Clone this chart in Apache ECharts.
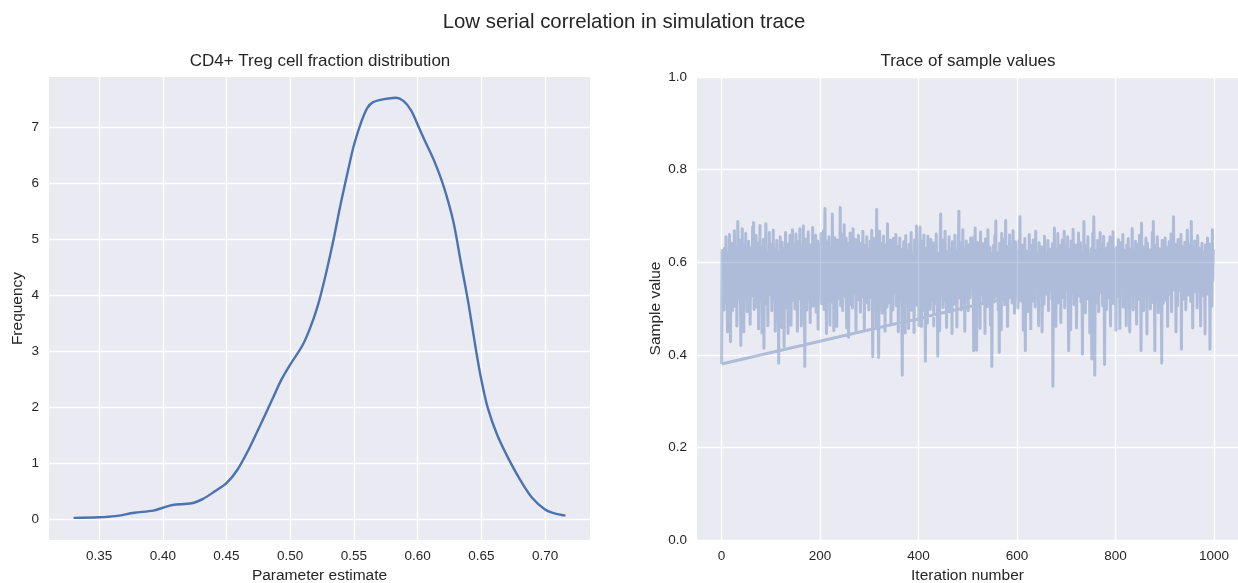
<!DOCTYPE html>
<html><head><meta charset="utf-8">
<script src="https://cdn.jsdelivr.net/npm/echarts@6/dist/echarts.min.js"></script>
<style>html,body{margin:0;padding:0;background:#fff}#c{width:1238px;height:583px}</style>
</head><body><div id="c"></div>
<script>
// ---- KDE curve (left panel) ----
const kdeX = [0.330,0.350,0.3626,0.3776,0.3926,0.400,0.4076,0.4226,0.4316,0.4406,0.450,0.4586,0.4676,0.4766,0.4856,0.4931,0.500,0.5096,0.5156,0.5216,0.5276,0.5336,0.5396,0.5456,0.550,0.556,0.5606,0.5651,0.5726,0.5831,0.5891,0.595,0.600,0.6055,0.613,0.6205,0.628,0.634,0.640,0.6461,0.650,0.655,0.6625,0.6715,0.6805,0.6895,0.700,0.7075,0.716];
const kdeY = [0.02,0.03,0.05,0.11,0.15,0.20,0.25,0.28,0.36,0.49,0.64,0.88,1.25,1.68,2.12,2.49,2.76,3.10,3.41,3.81,4.34,4.95,5.63,6.25,6.68,7.11,7.35,7.45,7.50,7.53,7.47,7.30,7.05,6.77,6.40,5.94,5.32,4.58,3.84,2.98,2.49,1.99,1.50,1.07,0.70,0.39,0.17,0.10,0.06];

// ---- tick labels ----
const leftXTicks = [0.35,0.40,0.45,0.50,0.55,0.60,0.65,0.70];
const leftYTicks = [0,1,2,3,4,5,6,7];
const rightXTicks = [0,200,400,600,800,1000];
const rightYTicks = [0,0.2,0.4,0.6,0.8,1.0];

// ---- trace of sample values (thousandths), iterations 0..999 ----
const traceA = [
380,625,548,612,571,497,630,589,542,655, 512,598,449,621,566,533,660,585,428,603,
552,641,495,578,617,539,668,505,590,560, 634,462,571,688,543,602,520,648,581,420,
596,557,672,509,615,449,583,639,526,662, 548,601,493,627,570,645,512,589,466,631,
557,604,528,676,541,686,498,582,619,537, 658,503,594,566,640,456,612,553,679,520,
587,633,447,605,561,649,414,598,574,627, 683,509,566,621,463,602,547,664,531,590,
573,638,495,611,554,669,519,583,627,451, 600,562,647,508,591,536,382,622,579,655,
527,606,459,643,568,599,515,418,630,561, 664,502,588,549,617,446,640,575,533,658,
596,464,625,552,670,518,603,569,637,499, 585,661,530,608,451,644,563,597,521,672,
545,619,462,634,578,512,678,556,601,375, 628,565,650,497,589,541,666,523,612,580,
469,637,559,601,534,675,505,591,548,626, 574,658,492,617,551,646,455,603,565,639,
527,595,662,510,581,629,544,668,498,606, 716,538,588,446,643,567,609,523,655,580,
464,631,556,600,514,704,546,622,452,593, 653,532,611,567,461,648,574,521,637,590,
543,718,506,598,572,660,495,615,549,681];
const traceB = [
527,604,575,652,458,619,561,596,438,641, 570,663,509,587,543,626,501,672,556,612,
585,534,649,453,603,567,632,519,658,590, 545,617,492,641,572,604,526,667,553,598,
456,636,564,609,540,655,512,584,627,497, 612,558,645,524,593,669,541,396,603,577,
651,509,588,632,460,714,552,620,536,394, 598,667,517,584,641,563,490,609,575,656,
528,600,451,637,566,617,503,683,548,592, 629,512,579,648,469,605,560,622,497,651,
571,534,611,582,660,506,595,548,634,450, 603,567,652,521,588,628,493,356,615,579,
644,538,601,447,657,562,593,515,626,585, 457,639,551,607,529,664,496,578,620,545,
599,448,648,563,612,524,678,507,586,633, 557,463,615,676,538,597,461,645,572,526,
608,659,495,583,386,630,547,601,468,656, 575,533,621,580,498,649,562,612,519,590,
642,462,604,568,627,510,661,545,584,397, 618,553,597,452,635,704,529,606,571,648,
502,589,633,541,667,518,596,459,622,574, 611,536,655,493,587,629,548,602,446,644,
566,617,509,593,658,531,580,624,460,607, 552,639,710,523,598,568,641,497,613,556,
670,514,591,627,451,603,559,646,532,618];
const traceC = [
581,495,637,566,608,523,652,574,544,629, 589,653,409,600,562,674,536,611,410,586,
643,507,595,558,621,457,665,569,603,531, 588,640,515,579,612,446,650,547,596,625,
504,670,561,603,538,632,464,589,618,375, 601,548,636,572,514,657,583,689,526,609,
565,620,497,594,405,641,553,606,454,662, 587,532,618,561,649,508,598,690,543,612,
571,461,634,589,523,659,547,603,575,637, 512,596,668,558,621,490,581,644,534,607,
568,625,501,589,647,541,698,575,516,612, 553,637,584,453,603,562,651,409,596,540,
624,571,493,609,557,660,529,592,456,636, 577,515,606,648,544,590,628,503,667,561,
599,537,619,573,463,642,556,611,527,584, 633,449,597,564,625,509,656,548,590,616,
531,603,579,647,495,612,558,628,543,585, 607,520,640,332,594,565,674,538,609,461,
627,571,553,662,512,598,637,547,586,469, 614,559,648,524,603,576,667,501,592,632,
544,610,583,655,517,409,629,566,598,454, 646,552,604,534,671,589,508,623,561,595,
637,458,612,570,549,663,527,601,580,642, 514,593,558,401,620,574,688,536,607,491,
635,566,599,521,655,583,547,616,447,603];
const traceD = [
578,629,391,595,662,541,698,610,356,587, 625,559,603,512,647,570,493,618,582,664,
535,601,574,639,506,590,656,548,379,612, 567,630,498,595,551,641,524,606,579,655,
462,619,563,598,536,666,511,584,627,552, 604,453,632,571,596,526,649,558,611,457,
587,642,549,606,572,660,503,593,626,540, 615,569,463,637,583,518,651,562,599,449,
628,555,607,533,673,579,497,621,564,602, 541,645,586,466,612,573,638,520,594,658,
561,604,409,684,537,619,578,495,633,566, 600,528,652,585,445,641,556,609,535,627,
574,499,618,590,547,664,513,688,562,603, 409,636,571,598,524,655,582,491,615,550,
629,567,606,543,382,647,584,511,620,572, 596,652,518,607,565,632,461,589,548,644,
577,609,530,661,493,594,568,623,698,540, 601,557,638,449,612,579,506,649,563,595,
625,539,588,660,412,607,571,634,520,598, 556,643,582,497,616,547,669,575,529,605,
639,562,594,515,688,578,611,458,627,554, 600,646,536,589,568,623,501,657,574,612,
545,592,630,462,606,561,641,527,583,619, 556,604,445,637,578,598,531,652,566,609,
587,640,412,599,548,621,505,670,560,626];

const traceMilli = [].concat(traceA, traceB, traceC, traceD);
const traceData = traceMilli.map((v, i) => [i, v / 1000]);
// the plotted path wraps from the last iteration back to the first sample
traceData.push([0, traceMilli[0] / 1000]);

const kdeData = kdeX.map((x, i) => [x, kdeY[i]]);

const FONT = '"Liberation Sans", Arial, sans-serif';
const TXT = '#262626';
const BG = '#EAEAF2';

const chart = echarts.init(document.getElementById('c'), null, {renderer: 'canvas'});

function axisCommon(extra) {
  return Object.assign({
    type: 'value',
    axisLine: {show: false},
    splitLine: {show: true, lineStyle: {color: '#ffffff', width: 1.3}},
    nameLocation: 'middle',
    nameTextStyle: {color: TXT, fontFamily: FONT, fontSize: 15.5}
  }, extra);
}
const tickFont = {color: TXT, fontFamily: FONT, fontSize: 13.5};

chart.setOption({
  backgroundColor: '#ffffff',
  animation: false,
  title: [
    {text: 'Low serial correlation in simulation trace', left: 624, top: 12, textAlign: 'center', padding: 0,
     textStyle: {fontFamily: FONT, fontSize: 20.4, fontWeight: 'normal', color: TXT}},
    {text: 'CD4+ Treg cell fraction distribution', left: 320, top: 53, textAlign: 'center', padding: 0,
     textStyle: {fontFamily: FONT, fontSize: 17, fontWeight: 'normal', color: TXT}},
    {text: 'Trace of sample values', left: 968, top: 53, textAlign: 'center', padding: 0,
     textStyle: {fontFamily: FONT, fontSize: 17, fontWeight: 'normal', color: TXT}}
  ],
  grid: [
    {left: 49, top: 77, width: 541, height: 463, show: true, backgroundColor: BG, borderWidth: 0,
     containLabel: false, outerBoundsMode: 'none'},
    {left: 697, top: 77, width: 541, height: 463, show: true, backgroundColor: BG, borderWidth: 0,
     containLabel: false, outerBoundsMode: 'none'}
  ],
  xAxis: [
    axisCommon({gridIndex: 0, min: 0.3107, max: 0.7353, name: 'Parameter estimate', nameGap: 27,
      axisTick: {show: false, customValues: leftXTicks},
      axisLabel: Object.assign({customValues: leftXTicks, formatter: v => v.toFixed(2), margin: 9}, tickFont)}),
    axisCommon({gridIndex: 1, min: -49.95, max: 1048.95, name: 'Iteration number', nameGap: 27,
      axisTick: {show: false, customValues: rightXTicks},
      axisLabel: Object.assign({customValues: rightXTicks, formatter: v => String(Math.round(v)), margin: 9}, tickFont)})
  ],
  yAxis: [
    axisCommon({gridIndex: 0, min: -0.376, max: 7.9, name: 'Frequency', nameGap: 23,
      axisTick: {show: false, customValues: leftYTicks},
      axisLabel: Object.assign({customValues: leftYTicks, formatter: v => String(Math.round(v)), margin: 10}, tickFont)}),
    axisCommon({gridIndex: 1, min: 0, max: 1, name: 'Sample value', nameGap: 33,
      axisTick: {show: false, customValues: rightYTicks},
      axisLabel: Object.assign({customValues: rightYTicks, formatter: v => v.toFixed(1), margin: 10}, tickFont)})
  ],
  series: [
    {type: 'line', xAxisIndex: 0, yAxisIndex: 0, data: kdeData, smooth: 0.3, showSymbol: false,
     lineStyle: {color: '#4C72B0', width: 2.4}, silent: true},
    {type: 'line', xAxisIndex: 1, yAxisIndex: 1, data: traceData, showSymbol: false, sampling: null,
     lineStyle: {color: '#4C72B0', width: 3, opacity: 0.38, join: 'round'}, silent: true}
  ]
});
</script>
</body></html>
